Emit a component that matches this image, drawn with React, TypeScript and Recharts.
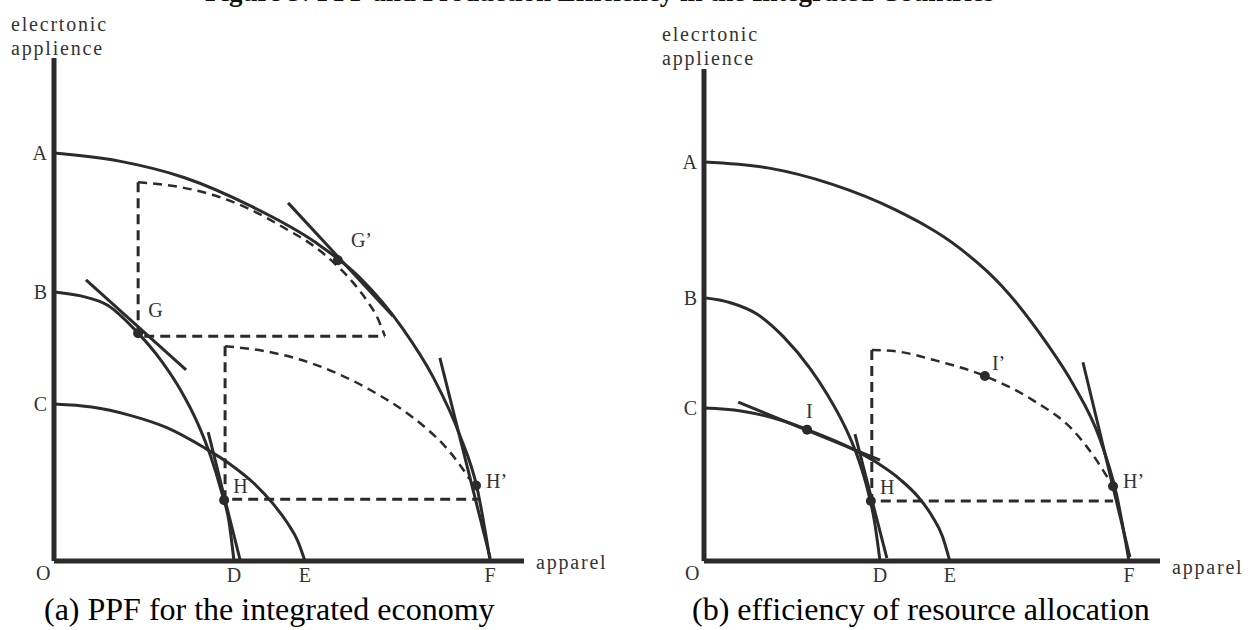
import React from 'react';
import { ComposedChart, Line, Scatter, XAxis, YAxis } from 'recharts';

type Pt = { x: number; y: number };
type Mark = Pt & { name: string };

const INK = '#2b2b2b';
const TEXT = '#333333';
const SERIF = '"Liberation Serif", "Times New Roman", serif';

// ---------- panel (a): PPF for the integrated economy ----------
const aTicksX = [38.3, 53.4, 92.8];
const aLabelsX = ['D', 'E', 'F'];
const aTicksY = [81.1, 53.5, 31.2];
const aLabelsY = ['A', 'B', 'C'];

const aFrontierA: Pt[] = [
  { x: 0, y: 81.1 }, { x: 13.9, y: 79.5 }, { x: 27.8, y: 76.2 }, { x: 41.8, y: 70.6 },
  { x: 55.7, y: 63.3 }, { x: 65.0, y: 56.4 }, { x: 74.2, y: 46.2 }, { x: 80.7, y: 36.5 },
  { x: 86.3, y: 25.1 }, { x: 90.0, y: 14.6 }, { x: 92.8, y: 0 },
];
const aFrontierB: Pt[] = [
  { x: 0, y: 53.5 }, { x: 5.7, y: 52.7 }, { x: 11.5, y: 50.8 }, { x: 17.2, y: 46.0 },
  { x: 23.0, y: 39.6 }, { x: 26.8, y: 34.2 }, { x: 30.6, y: 27.3 }, { x: 33.3, y: 20.9 },
  { x: 35.6, y: 13.9 }, { x: 37.2, y: 8.0 }, { x: 38.3, y: 0 },
];
const aFrontierC: Pt[] = [
  { x: 0, y: 31.2 }, { x: 8.0, y: 30.6 }, { x: 16.0, y: 29.0 }, { x: 24.0, y: 26.5 },
  { x: 32.0, y: 22.5 }, { x: 37.4, y: 19.3 }, { x: 42.7, y: 15.3 }, { x: 46.5, y: 11.5 },
  { x: 49.7, y: 7.5 }, { x: 51.8, y: 4.1 }, { x: 53.4, y: 0 },
];
const aDashCurveG: Pt[] = [
  { x: 17.9, y: 75.3 }, { x: 25.8, y: 74.5 }, { x: 33.7, y: 72.8 }, { x: 41.5, y: 70.0 },
  { x: 49.4, y: 66.0 }, { x: 54.7, y: 63.0 }, { x: 59.9, y: 59.0 }, { x: 63.6, y: 55.4 },
  { x: 66.7, y: 51.6 }, { x: 68.8, y: 48.4 }, { x: 70.4, y: 44.7 },
];
const aDashBoxG: Pt[] = [{ x: 17.9, y: 75.3 }, { x: 17.9, y: 44.7 }, { x: 70.4, y: 44.7 }];
const aDashCurveH: Pt[] = [
  { x: 36.4, y: 42.7 }, { x: 44.4, y: 41.8 }, { x: 52.5, y: 40.0 }, { x: 60.5, y: 37.2 },
  { x: 68.6, y: 33.3 }, { x: 73.9, y: 30.2 }, { x: 79.3, y: 26.3 }, { x: 83.0, y: 23.0 },
  { x: 86.2, y: 19.3 }, { x: 88.4, y: 16.3 },
];
const aDashBoxH: Pt[] = [{ x: 36.4, y: 42.7 }, { x: 36.4, y: 12.3 }, { x: 90.2, y: 12.3 }];
const aTangentG: Pt[] = [{ x: 6.8, y: 55.9 }, { x: 28.1, y: 38.0 }];
const aTangentG2: Pt[] = [{ x: 49.8, y: 71.2 }, { x: 72.1, y: 48.7 }];
const aTangentH: Pt[] = [{ x: 32.8, y: 25.6 }, { x: 39.6, y: 0.2 }];
const aTangentH2: Pt[] = [{ x: 82.1, y: 40.4 }, { x: 92.8, y: 0.6 }];
const aMarks: Mark[] = [
  { name: 'G', x: 17.9, y: 45.3 },
  { name: 'G’', x: 60.4, y: 59.8 },
  { name: 'H', x: 36.2, y: 12.1 },
  { name: 'H’', x: 89.8, y: 15.0 },
];

// ---------- panel (b): efficiency of resource allocation ----------
const bTicksX = [38.6, 53.9, 93.2];
const bLabelsX = ['D', 'E', 'F'];
const bTicksY = [81.1, 53.5, 31.1];
const bLabelsY = ['A', 'B', 'C'];

const bFrontierA: Pt[] = [
  { x: 0, y: 81.1 }, { x: 14.0, y: 79.9 }, { x: 28.0, y: 76.6 }, { x: 41.9, y: 71.4 },
  { x: 55.9, y: 63.7 }, { x: 65.2, y: 56.0 }, { x: 74.6, y: 45.0 }, { x: 81.1, y: 35.7 },
  { x: 86.7, y: 25.1 }, { x: 90.4, y: 13.8 }, { x: 93.2, y: 0 },
];
const bFrontierB: Pt[] = [
  { x: 0, y: 53.5 }, { x: 5.8, y: 52.5 }, { x: 11.6, y: 50.2 }, { x: 17.4, y: 45.6 },
  { x: 23.2, y: 39.2 }, { x: 27.0, y: 33.9 }, { x: 30.9, y: 27.3 }, { x: 33.6, y: 21.4 },
  { x: 35.9, y: 14.4 }, { x: 37.4, y: 8.0 }, { x: 38.6, y: 0 },
];
const bFrontierC: Pt[] = [
  { x: 0, y: 31.1 }, { x: 8.1, y: 30.5 }, { x: 16.2, y: 28.8 }, { x: 24.3, y: 26.1 },
  { x: 32.3, y: 22.9 }, { x: 37.7, y: 20.1 }, { x: 43.1, y: 16.5 }, { x: 46.9, y: 13.1 },
  { x: 50.1, y: 9.0 }, { x: 52.3, y: 5.0 }, { x: 53.9, y: 0 },
];
const bDashCurve: Pt[] = [
  { x: 36.8, y: 42.9 }, { x: 43.0, y: 42.5 }, { x: 50.2, y: 40.9 }, { x: 61.6, y: 37.6 },
  { x: 72.1, y: 32.7 }, { x: 80.9, y: 26.6 }, { x: 86.0, y: 20.6 }, { x: 88.6, y: 16.8 },
];
const bDashBox: Pt[] = [{ x: 36.8, y: 42.9 }, { x: 36.8, y: 12.2 }, { x: 89.7, y: 12.2 }];
const bTangentI: Pt[] = [{ x: 7.5, y: 32.3 }, { x: 38.6, y: 20.5 }];
const bTangentH: Pt[] = [{ x: 33.1, y: 25.8 }, { x: 40.1, y: 0.6 }];
const bTangentH2: Pt[] = [{ x: 83.1, y: 40.4 }, { x: 93.4, y: 0.8 }];
const bMarks: Mark[] = [
  { name: 'I', x: 22.6, y: 26.7 },
  { name: 'I’', x: 61.6, y: 37.6 },
  { name: 'H', x: 36.6, y: 12.2 },
  { name: 'H’', x: 89.7, y: 15.2 },
];

// label offsets from the point, in px
const LABEL_OFFSET: Record<string, [number, number]> = {
  G: [10, -16],
  'G’': [13, -13],
  H: [9, -7],
  'H’': [10, 2],
  I: [-1, -12],
  'I’': [7, -6],
};

const MarkShape = (props: any) => {
  const { cx, cy, payload } = props;
  const [dx, dy] = LABEL_OFFSET[payload.name] ?? [8, -8];
  return (
    <g>
      <circle cx={cx} cy={cy} r={5} fill={INK} />
      <text x={cx + dx} y={cy + dy} fontSize={20} fontFamily={SERIF} fill={TEXT}>
        {payload.name}
      </text>
    </g>
  );
};

interface PanelProps {
  left: number;
  margin: { top: number; right: number; bottom: number; left: number };
  solid: Pt[][];
  tangents: Pt[][];
  boxes: Pt[][];
  dashCurves: Pt[][];
  marks: Mark[];
  ticksX: number[];
  labelsX: string[];
  ticksY: number[];
  labelsY: string[];
}

const tickStyle = { fill: TEXT, fontSize: 20, fontFamily: SERIF };

const Panel = (p: PanelProps) => (
  <div style={{ position: 'absolute', left: p.left, top: 0 }}>
    <ComposedChart width={624} height={630} margin={p.margin}>
      <XAxis
        type="number"
        dataKey="x"
        domain={[0, 100]}
        allowDataOverflow
        height={30}
        ticks={p.ticksX}
        interval={0}
        tickFormatter={(v: number) => p.labelsX[p.ticksX.indexOf(v)] ?? ''}
        tick={tickStyle}
        tickLine={false}
        tickSize={0}
        tickMargin={7}
        axisLine={{ stroke: INK, strokeWidth: 5 }}
      />
      <YAxis
        type="number"
        dataKey="y"
        domain={[0, 100]}
        allowDataOverflow
        width={40}
        ticks={p.ticksY}
        interval={0}
        tickFormatter={(v: number) => p.labelsY[p.ticksY.indexOf(v)] ?? ''}
        tick={tickStyle}
        tickLine={false}
        tickSize={0}
        tickMargin={7}
        axisLine={{ stroke: INK, strokeWidth: 5 }}
      />
      {p.solid.map((d, i) => (
        <Line key={'s' + i} data={d} dataKey="y" type="monotone" stroke={INK} strokeWidth={3}
          dot={false} activeDot={false} isAnimationActive={false} />
      ))}
      {p.tangents.map((d, i) => (
        <Line key={'t' + i} data={d} dataKey="y" type="linear" stroke={INK} strokeWidth={3}
          dot={false} activeDot={false} isAnimationActive={false} />
      ))}
      {p.boxes.map((d, i) => (
        <Line key={'b' + i} data={d} dataKey="y" type="linear" stroke={INK} strokeWidth={3}
          strokeDasharray="10 6" dot={false} activeDot={false} isAnimationActive={false} />
      ))}
      {p.dashCurves.map((d, i) => (
        <Line key={'d' + i} data={d} dataKey="y" type="monotone" stroke={INK} strokeWidth={2.5}
          strokeDasharray="9 6" dot={false} activeDot={false} isAnimationActive={false} />
      ))}
      <Scatter data={p.marks} shape={MarkShape} isAnimationActive={false} />
    </ComposedChart>
  </div>
);

const textStyle = { fontFamily: SERIF, fill: TEXT };

export default function App() {
  return (
    <div style={{ position: 'absolute', left: 0, top: 0, width: 1248, height: 630, background: '#fff', overflow: 'hidden' }}>
      <Panel
        left={0}
        margin={{ top: 58, right: 100, bottom: 39, left: 14 }}
        solid={[aFrontierA, aFrontierB, aFrontierC]}
        tangents={[aTangentG, aTangentG2, aTangentH, aTangentH2]}
        boxes={[aDashBoxG, aDashBoxH]}
        dashCurves={[aDashCurveG, aDashCurveH]}
        marks={aMarks}
        ticksX={aTicksX}
        labelsX={aLabelsX}
        ticksY={aTicksY}
        labelsY={aLabelsY}
      />
      <Panel
        left={624}
        margin={{ top: 69, right: 88, bottom: 39, left: 40 }}
        solid={[bFrontierA, bFrontierB, bFrontierC]}
        tangents={[bTangentI, bTangentH, bTangentH2]}
        boxes={[bDashBox]}
        dashCurves={[bDashCurve]}
        marks={bMarks}
        ticksX={bTicksX}
        labelsX={bLabelsX}
        ticksY={bTicksY}
        labelsY={bLabelsY}
      />
      <svg width={1248} height={630} style={{ position: 'absolute', left: 0, top: 0, pointerEvents: 'none' }}>
        <text x={205} y={1} fontSize={27} fontWeight="bold" fontFamily={SERIF} fill="#111">
          Figure 3: PPF and Production Efficiency in the Integrated Countries
        </text>
        <text x={11} y={31} fontSize={20} letterSpacing={1.8} {...textStyle}>elecrtonic</text>
        <text x={11} y={55} fontSize={20} letterSpacing={1.8} {...textStyle}>applience</text>
        <text x={662} y={41} fontSize={20} letterSpacing={1.8} {...textStyle}>elecrtonic</text>
        <text x={662} y={65} fontSize={20} letterSpacing={1.8} {...textStyle}>applience</text>
        <text x={536} y={569} fontSize={20} letterSpacing={1.8} {...textStyle}>apparel</text>
        <text x={1172} y={574} fontSize={20} letterSpacing={1.8} {...textStyle}>apparel</text>
        <text x={36} y={580} fontSize={20} {...textStyle}>O</text>
        <text x={685} y={580} fontSize={20} {...textStyle}>O</text>
        <text x={44} y={620} fontSize={32} fontFamily={SERIF} fill="#000">(a) PPF for the integrated economy</text>
        <text x={692} y={620} fontSize={32} fontFamily={SERIF} fill="#000">(b) efficiency of resource allocation</text>
      </svg>
    </div>
  );
}
